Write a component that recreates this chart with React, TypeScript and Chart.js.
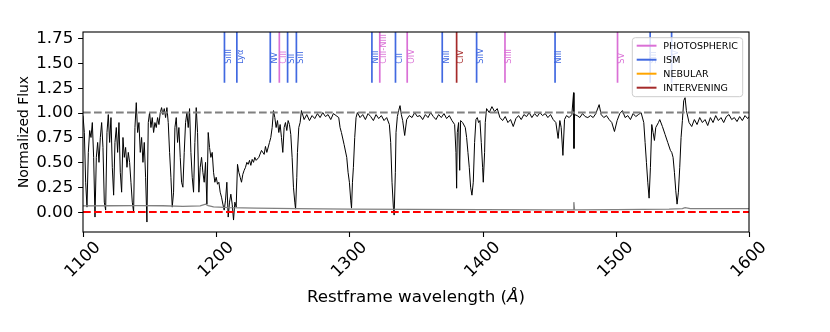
import React, { useEffect, useRef } from "react";
import { Chart, registerables } from "chart.js";

Chart.register(...registerables);

const FONT = '"DejaVu Sans", sans-serif';

const xTicks = [1100, 1200, 1300, 1400, 1500, 1600];
const yTicks = [0, 0.25, 0.5, 0.75, 1, 1.25, 1.5, 1.75];
const xMin = 1100;
const xMax = 1600;
const yMin = -0.2;
const yMax = 1.81;

const wave = [
  1100, 1101, 1102, 1103, 1104, 1105, 1106, 1107, 1108, 1109,
  1110, 1111, 1112, 1113, 1114, 1115, 1116, 1117, 1118, 1119,
  1120, 1121, 1122, 1123, 1124, 1125, 1126, 1127, 1128, 1129,
  1130, 1131, 1132, 1133, 1134, 1135, 1136, 1137, 1138, 1139,
  1140, 1141, 1142, 1143, 1144, 1145, 1146, 1147, 1148, 1149,
  1150, 1151, 1152, 1153, 1154, 1155, 1156, 1157, 1158, 1159,
  1160, 1161, 1162, 1163, 1164, 1165, 1166, 1167, 1168, 1169,
  1170, 1171, 1172, 1173, 1174, 1175, 1176, 1177, 1178, 1179,
  1180, 1181, 1182, 1183, 1184, 1185, 1186, 1187, 1188, 1189,
  1190, 1191, 1192, 1193, 1194, 1195, 1196, 1197, 1198, 1199,
  1200, 1201, 1202, 1203, 1204, 1205, 1206, 1207, 1208, 1209,
  1210, 1211, 1212, 1213, 1214, 1215, 1216, 1217, 1218, 1219,
  1220, 1221, 1222, 1223, 1224, 1225, 1226, 1227, 1228, 1229,
  1230, 1232, 1234, 1236, 1237, 1238, 1240, 1241, 1242, 1243,
  1244, 1245, 1246, 1247, 1248, 1249, 1250, 1251, 1252, 1253,
  1254, 1255, 1256, 1257, 1258, 1259, 1259.6, 1260.5, 1261, 1262,
  1263, 1264, 1266, 1268, 1270, 1272, 1274, 1276, 1278, 1280,
  1282, 1284, 1286, 1288, 1290, 1292, 1293, 1294, 1296, 1298,
  1299, 1300, 1301, 1301.6, 1302.3, 1303, 1304, 1305, 1306, 1308,
  1310, 1312, 1314, 1316, 1318, 1320, 1322, 1324, 1326, 1328,
  1330, 1331, 1332, 1333, 1333.6, 1334.5, 1335, 1336, 1337, 1338,
  1339, 1340, 1341.5, 1343, 1345, 1347, 1349, 1351,
  1353, 1355, 1357, 1359, 1361, 1363, 1365, 1367, 1369, 1371,
  1373, 1375, 1377, 1379, 1380, 1380.5, 1381, 1382, 1382.8, 1383.5,
  1385, 1387, 1388, 1389, 1390, 1391, 1392, 1393, 1394, 1395,
  1396, 1397, 1398, 1399, 1400, 1400.5, 1401.5, 1402, 1403, 1405,
  1407, 1409, 1411, 1413, 1415, 1417, 1419, 1421, 1423, 1425,
  1427, 1429, 1431, 1433, 1435, 1437, 1439, 1441, 1443, 1445,
  1447, 1449, 1451, 1453, 1455, 1456.7, 1458, 1459, 1460.3, 1461.5,
  1463, 1465, 1467, 1468.3, 1468.6, 1469, 1471, 1473, 1475, 1477,
  1479,
  1481, 1483, 1485, 1487.5, 1489, 1491, 1493, 1495, 1497, 1499,
  1501, 1503, 1505, 1507, 1509, 1511, 1513, 1515, 1517, 1519,
  1521, 1522, 1523, 1524, 1525, 1526, 1527, 1528, 1529, 1530,
  1532, 1533, 1535, 1537, 1539, 1541, 1542, 1543, 1544, 1545,
  1546, 1547, 1548, 1549, 1550, 1551, 1552, 1553, 1555, 1557,
  1559, 1561, 1563, 1565, 1567, 1569, 1571, 1573, 1575, 1577,
  1579, 1581, 1583, 1585, 1587, 1589, 1591, 1593, 1595, 1597,
  1599, 1600,
];

const flux = [
  0.97, 0.80, 0.30, 0.05, 0.60, 0.82, 0.75, 0.90, 0.55, -0.05,
  0.55, 0.70, 0.50, 0.75, 0.90, 0.65, 0.10, 0.02, 0.80, 0.98,
  0.70, 0.95, 0.45, 0.17, 0.70, 0.85, 0.60, 0.90, 0.40, 0.20,
  0.75, 0.55, 0.65, 0.45, 0.60, 0.50, 0.30, 0.10, 0.00, 0.85,
  1.10, 0.80, 0.90, 0.60, 0.75, 0.50, 0.70, 0.35, -0.10, 0.90,
  1.00, 0.85, 0.95, 0.80, 0.90, 0.85, 0.95, 0.88, 1.00, 1.05,
  0.98, 1.04, 0.95, 1.05, 0.90, 0.60, 0.35, 0.05, 0.20, 0.85,
  0.95, 0.70, 0.85, 0.55, 0.30, 0.25, 0.60, 0.90, 1.00, 0.85,
  1.04, 0.60, 0.35, 0.20, 0.70, 1.05, 0.80, 0.20, 0.45, 0.55,
  0.40, 0.30, 0.50, 0.08, 0.80, 0.65, 0.55, 0.60, 0.40, 0.30,
  0.35, 0.28, 0.30, 0.20, 0.15, 0.08, 0.02, 0.12, 0.30, -0.05,
  0.10, 0.18, 0.08, -0.08, 0.10, 0.05, 0.48, 0.40, 0.35, 0.30,
  0.38, 0.42, 0.45, 0.50, 0.48, 0.52, 0.47, 0.53, 0.50, 0.55,
  0.52, 0.55, 0.62, 0.58, 0.66, 0.60, 0.70, 0.75, 0.85, 1.02,
  0.95, 0.85, 0.92, 0.80, 0.88, 0.75, 0.60, 0.85, 0.90, 0.82,
  0.92, 0.88, 0.78, 0.55, 0.25, 0.10, 0.03, 0.35, 0.60, 0.85,
  0.90, 1.02, 0.93, 0.98, 0.92, 0.97, 0.94, 0.99, 0.95, 1.00,
  0.96, 0.98, 0.93, 0.99, 0.97, 0.95, 0.85, 0.80, 0.68, 0.55,
  0.40, 0.30, 0.12, 0.04, 0.30, 0.45, 0.75, 0.95, 1.00, 0.95,
  0.98, 0.93, 0.99, 0.96, 0.92, 0.98, 0.94, 0.97, 0.92, 0.95,
  0.88, 0.70, 0.30, 0.05, -0.03, 0.40, 0.80, 0.96, 1.02, 1.07,
  0.98, 0.92, 0.77, 0.93, 0.97, 0.95, 1.00, 0.96,
  0.97, 0.93, 0.98, 0.95, 1.00, 0.96, 0.93, 0.98, 0.95, 0.99,
  0.94, 0.97, 0.92, 0.88, 0.60, 0.24, 0.80, 0.90, 0.42, 0.92,
  0.90, 0.85, 0.75, 0.60, 0.45, 0.25, 0.17, 0.30, 0.70, 0.93,
  0.95, 0.90, 0.92, 0.70, 0.45, 0.30, 0.60, 0.90, 1.04, 1.00,
  1.06, 1.01, 1.04, 0.95, 0.92, 0.96, 0.90, 0.93, 0.86, 0.94,
  0.97, 0.93, 0.98, 0.96, 1.00, 0.95, 0.99, 0.96, 1.00, 0.97,
  0.99, 0.95, 0.98, 0.93, 0.90, 0.74, 0.92, 0.85, 0.57, 0.93,
  0.97, 0.95, 0.98, 1.20, 0.64, 0.98, 0.97, 0.95, 0.99, 0.96,
  0.95,
  0.97, 0.95, 0.99, 1.08, 0.98, 0.95, 0.97, 0.93, 0.90, 0.81,
  0.92, 0.99, 1.02, 0.95, 0.97, 0.93, 0.99, 0.96, 0.98, 1.00,
  0.90, 0.70, 0.50, 0.30, 0.14, 0.45, 0.88, 0.80, 0.72, 0.85,
  0.90, 0.93, 0.86, 0.78, 0.70, 0.62, 0.60, 0.55, 0.40, 0.22,
  0.08, 0.20, 0.45, 0.75, 0.92, 1.12, 1.15, 1.02, 0.90, 0.86,
  0.93, 0.88, 0.95, 0.90, 0.93, 0.87, 0.95, 0.90, 0.97, 0.92,
  0.95, 0.90, 0.96, 0.98, 0.93, 0.95, 0.91, 0.96, 0.92, 0.97,
  0.94, 0.96,
];

const errWave = [1100, 1120, 1140, 1160, 1175, 1188, 1192, 1194, 1198, 1210, 1230, 1260, 1300, 1350, 1400, 1450, 1468, 1468.5, 1469, 1500, 1540, 1550, 1552, 1556, 1600];
const errFlux = [0.062, 0.064, 0.066, 0.064, 0.058, 0.062, 0.08, 0.065, 0.052, 0.045, 0.04, 0.035, 0.03, 0.028, 0.025, 0.022, 0.022, 0.1, 0.022, 0.025, 0.03, 0.035, 0.045, 0.035, 0.035];

const lineWaves = [1206.2, 1215.5, 1240.6, 1247.4, 1253.6, 1260.2, 1316.9, 1322.8, 1334.6, 1343.4, 1369.7, 1380.5, 1395.5, 1416.8, 1454.4, 1501.3, 1525.8, 1541.9];
const lineNames = ["SiIII", "Lyα", "NV", "CIII", "SII", "SiII", "NiII", "CIII-NIII", "CII", "OIV", "NiII", "CIV", "SiIV", "SiIII", "NiII", "SV", "SiII", "CIV"];
const lineKinds = ["ISM", "ISM", "ISM", "PHOTOSPHERIC", "ISM", "ISM", "ISM", "PHOTOSPHERIC", "ISM", "PHOTOSPHERIC", "ISM", "INTERVENING", "ISM", "PHOTOSPHERIC", "ISM", "PHOTOSPHERIC", "ISM", "ISM"];
const lineBottom = 1.3;
const lineTop = 1.9;
const labelY = 1.49;

const legendLabels = ["PHOTOSPHERIC", "ISM", "NEBULAR", "INTERVENING"];
const legendColors = ["#DA70D6", "#4169E1", "#FFA500", "#A52A2A"];

const kindColor = (k: string) => legendColors[legendLabels.indexOf(k)];

const deco = {
  id: "deco",
  afterDatasetsDraw(chart: any) {
    const { ctx, chartArea: a, scales } = chart;
    const x = scales.x;
    const y = scales.y;
    ctx.save();

    // line labels
    ctx.font = `8.3px ${FONT}`;
    ctx.textAlign = "left";
    ctx.textBaseline = "top";
    lineWaves.forEach((w, i) => {
      ctx.save();
      ctx.translate(x.getPixelForValue(w), y.getPixelForValue(labelY));
      ctx.rotate(-Math.PI / 2);
      ctx.fillStyle = kindColor(lineKinds[i]);
      ctx.fillText(lineNames[i], 0, 0);
      ctx.restore();
    });

    // spines
    ctx.strokeStyle = "#000";
    ctx.lineWidth = 1.1;
    ctx.strokeRect(a.left, a.top, a.right - a.left, a.bottom - a.top);

    // ticks
    ctx.beginPath();
    yTicks.forEach((v) => {
      const py = Math.round(y.getPixelForValue(v)) + 0.5;
      ctx.moveTo(a.left, py);
      ctx.lineTo(a.left - 4.9, py);
    });
    xTicks.forEach((v) => {
      const px = Math.round(x.getPixelForValue(v)) + 0.5;
      ctx.moveTo(px, a.bottom);
      ctx.lineTo(px, a.bottom + 4.9);
    });
    ctx.stroke();

    ctx.fillStyle = "#000";
    ctx.font = `16.7px ${FONT}`;
    ctx.textAlign = "right";
    ctx.textBaseline = "middle";
    yTicks.forEach((v) => {
      ctx.fillText(v.toFixed(2), a.left - 9.7, y.getPixelForValue(v) + 0.5);
    });

    ctx.textAlign = "center";
    xTicks.forEach((v) => {
      ctx.save();
      ctx.translate(x.getPixelForValue(v), a.bottom + 28);
      ctx.rotate(-Math.PI / 4);
      ctx.fillText(String(v), 0, 0);
      ctx.restore();
    });

    // x title
    const t1 = "Restframe wavelength (";
    const t2 = "Å";
    const t3 = ")";
    ctx.font = `16.7px ${FONT}`;
    const w1 = ctx.measureText(t1).width;
    const w3 = ctx.measureText(t3).width;
    ctx.font = `italic 16.7px ${FONT}`;
    const w2 = ctx.measureText(t2).width;
    const total = w1 + w2 + w3;
    const sx = (a.left + a.right) / 2 - total / 2;
    const ty = a.bottom + 66;
    ctx.textAlign = "left";
    ctx.textBaseline = "middle";
    ctx.font = `16.7px ${FONT}`;
    ctx.fillText(t1, sx, ty);
    ctx.font = `italic 16.7px ${FONT}`;
    ctx.fillText(t2, sx + w1, ty);
    ctx.font = `16.7px ${FONT}`;
    ctx.fillText(t3, sx + w1 + w2, ty);

    // y title
    ctx.save();
    ctx.translate(24, (a.top + a.bottom) / 2);
    ctx.rotate(-Math.PI / 2);
    ctx.textAlign = "center";
    ctx.font = `13.9px ${FONT}`;
    ctx.fillText("Normalized Flux", 0, 0);
    ctx.restore();

    // legend
    const bx = a.right - 116.7;
    const by = a.top + 5.7;
    ctx.beginPath();
    ctx.roundRect(bx, by, 110.4, 59, 3);
    ctx.fillStyle = "rgba(255,255,255,0.8)";
    ctx.fill();
    ctx.strokeStyle = "#cccccc";
    ctx.lineWidth = 1;
    ctx.stroke();
    ctx.font = `9.5px ${FONT}`;
    ctx.textAlign = "left";
    ctx.textBaseline = "middle";
    legendLabels.forEach((lab, i) => {
      const ry = by + 8 + i * 14;
      ctx.beginPath();
      ctx.strokeStyle = legendColors[i];
      ctx.lineWidth = 2;
      ctx.moveTo(bx + 4.4, ry);
      ctx.lineTo(bx + 24.2, ry);
      ctx.stroke();
      ctx.fillStyle = "#000";
      ctx.fillText(lab, bx + 31, ry + 0.5);
    });

    ctx.restore();
  },
};

export default function App() {
  const ref = useRef<HTMLCanvasElement>(null);
  useEffect(() => {
    const canvas = ref.current!;
    const datasets: any[] = [
      {
        data: wave.map((w, i) => ({ x: w, y: flux[i] })),
        borderColor: "#000",
        borderWidth: 1.0,
        order: 5,
      },
      {
        data: errWave.map((w, i) => ({ x: w, y: errFlux[i] })),
        borderColor: "#808080",
        borderWidth: 1.3,
        order: 4,
      },
      {
        data: [{ x: xMin, y: 1 }, { x: xMax, y: 1 }],
        borderColor: "#808080",
        borderWidth: 2,
        borderDash: [7.7, 3.3],
        order: 3,
      },
      {
        data: [{ x: xMin, y: 0 }, { x: xMax, y: 0 }],
        borderColor: "#FF0000",
        borderWidth: 2,
        borderDash: [7.7, 3.3],
        order: 2,
      },
      ...lineWaves.map((w, i) => ({
        data: [{ x: w, y: lineBottom }, { x: w, y: lineTop }],
        borderColor: kindColor(lineKinds[i]),
        borderWidth: 1.7,
        order: 1,
      })),
    ];
    datasets.forEach((d) => {
      d.pointRadius = 0;
      d.clip = 0;
      d.tension = 0;
      d.fill = false;
    });
    const chart = new Chart(canvas, {
      type: "line",
      data: { datasets },
      options: {
        animation: false,
        responsive: false,
        devicePixelRatio: 1,
        events: [],
        layout: { padding: { left: 0, right: 81, top: 32, bottom: 0 } },
        plugins: { legend: { display: false }, tooltip: { enabled: false } },
        scales: {
          x: {
            type: "linear",
            min: xMin,
            max: xMax,
            ticks: { display: false },
            grid: { display: false },
            border: { display: false },
            afterBuildTicks: (s: any) => {
              s.ticks = xTicks.map((v) => ({ value: v }));
            },
            afterFit: (s: any) => {
              s.height = 100;
            },
          },
          y: {
            type: "linear",
            min: yMin,
            max: yMax,
            ticks: { display: false },
            grid: { display: false },
            border: { display: false },
            afterBuildTicks: (s: any) => {
              s.ticks = yTicks.map((v) => ({ value: v }));
            },
            afterFit: (s: any) => {
              s.width = 83;
            },
          },
        },
      } as any,
      plugins: [deco],
    });
    return () => chart.destroy();
  }, []);
  return (
    <canvas
      ref={ref}
      width={830}
      height={332}
      style={{ position: "absolute", left: 0, top: 0, width: 830, height: 332 }}
    />
  );
}
